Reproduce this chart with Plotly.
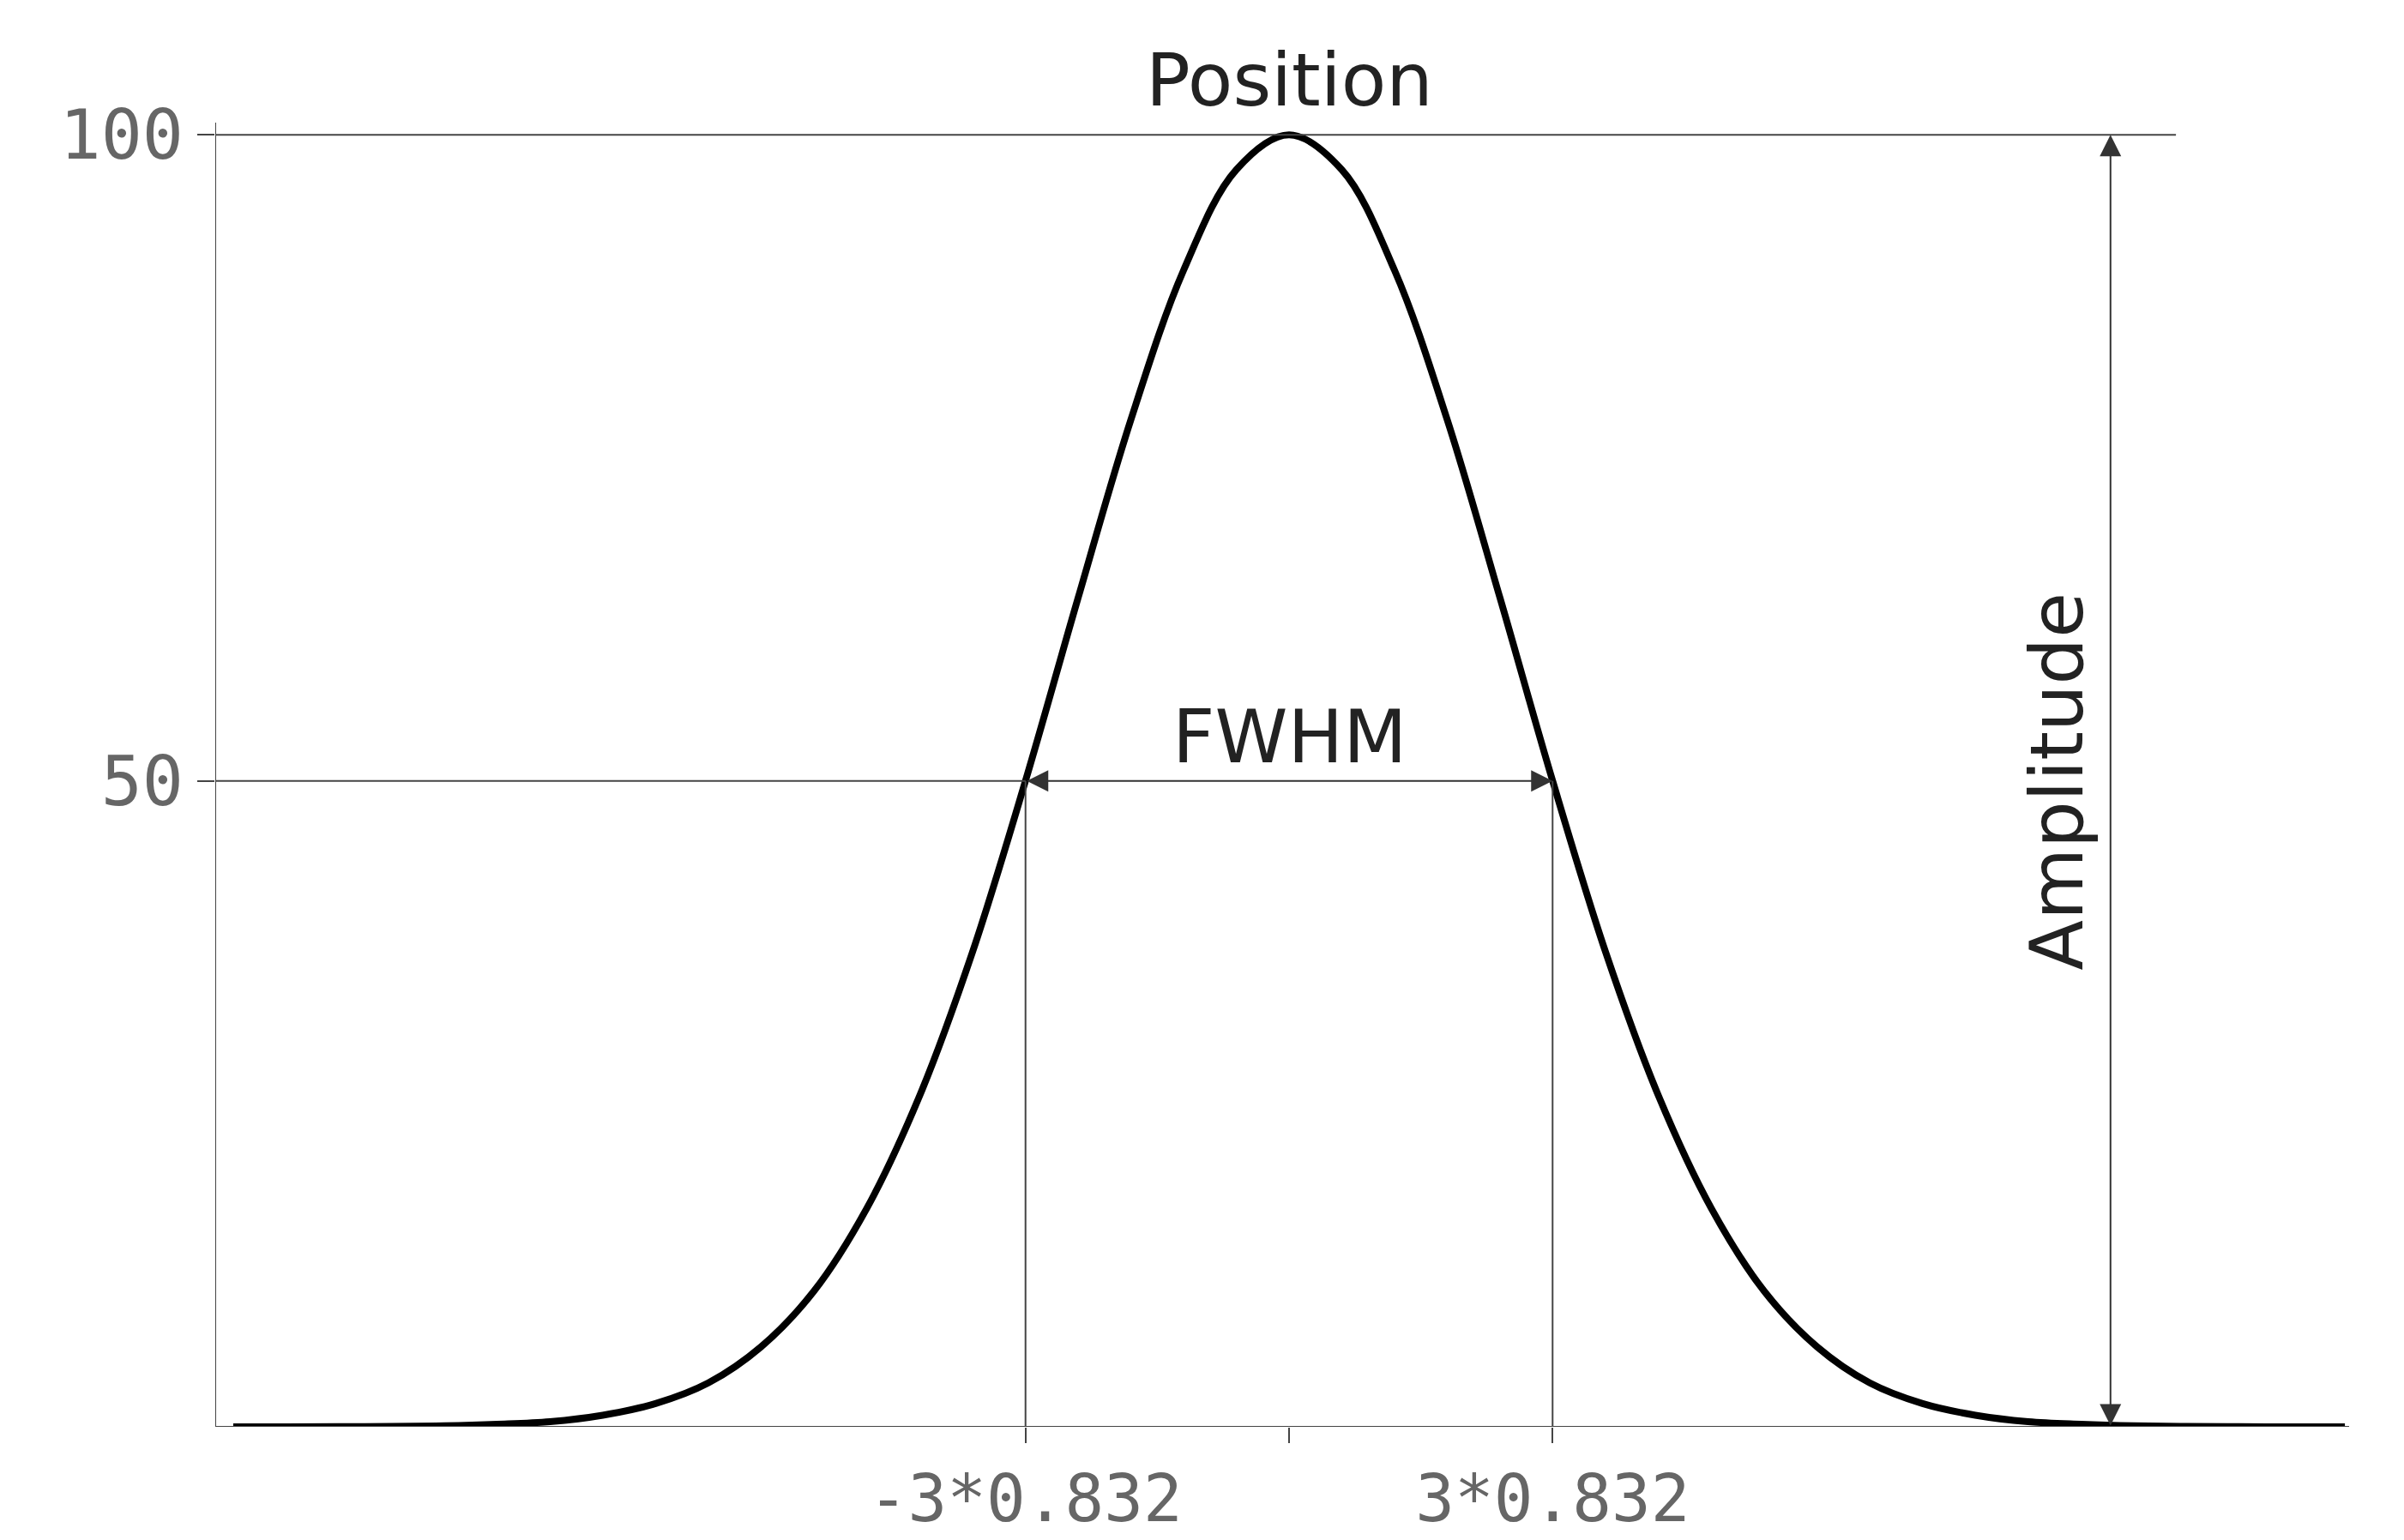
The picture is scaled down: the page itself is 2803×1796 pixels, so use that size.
import plotly.graph_objects as go

# values
x_vals = [-10,-9.5,-9,-8.5,-8,-7.5,-7,-6.5,-6,-5.5,-5,-4.5,-4,-3.5,-3,-2.5,-2,-1.5,-1,-0.5,0,
          0.5,1,1.5,2,2.5,3,3.5,4,4.5,5,5.5,6,6.5,7,7.5,8,8.5,9,9.5,10]
y_vals = [0,0,0.01,0.03,0.08,0.2,0.4,0.9,1.8,3.4,6.2,10.5,16.9,25.6,36.7,49.9,64.1,77.9,89.5,97.3,100,
          97.3,89.5,77.9,64.1,49.9,36.7,25.6,16.9,10.5,6.2,3.4,1.8,0.9,0.4,0.2,0.08,0.03,0.01,0,0]
half_w = 2.496
amp_x = 7.78
xtick_vals = [-half_w, 0, half_w]
xtick_text = ["-3*0.832", "", "3*0.832"]
ytick_vals = [50, 100]
ytick_text = ["50", "100"]

X0, X1 = -10.17, 10.04
Y0, Y1 = 0, 100.95
thin = dict(color="#444", width=2)

fig = go.Figure(go.Scatter(x=x_vals, y=y_vals, mode="lines", cliponaxis=False,
                           line=dict(color="black", width=8, shape="spline", smoothing=1.0),
                           hoverinfo="skip"))
shapes = [
    dict(type="line", x0=X0, x1=X1, y0=0, y1=0, line=thin),
    dict(type="line", x0=X0, x1=X0, y0=Y0, y1=Y1, line=thin),
    dict(type="line", x0=X0, x1=-half_w, y0=50, y1=50, line=thin),
    dict(type="line", x0=X0, x1=8.4, y0=100, y1=100, line=thin),
    dict(type="line", x0=-half_w, x1=-half_w, y0=0, y1=50, line=thin),
    dict(type="line", x0=half_w, x1=half_w, y0=0, y1=50, line=thin),
]
ann = [
    dict(x=half_w, y=50, ax=-half_w, ay=50, axref="x", ayref="y", xref="x", yref="y", text="",
         showarrow=True, arrowside="end+start", arrowhead=2, arrowsize=2.5, arrowwidth=2, arrowcolor="#333"),
    dict(x=amp_x, y=100, ax=amp_x, ay=0, axref="x", ayref="y", xref="x", yref="y", text="",
         showarrow=True, arrowside="end+start", arrowhead=2, arrowsize=2.5, arrowwidth=2, arrowcolor="#333"),
    dict(x=0, y=100.5, text="Position", showarrow=False, yanchor="bottom", yshift=5,
         font=dict(family="DejaVu Sans", size=86, color="#222")),
    dict(x=0, y=53.4, text="FWHM", showarrow=False,
         font=dict(family="DejaVu Sans", size=86, color="#222")),
    dict(x=7.27, y=50, text="Amplitude", showarrow=False, textangle=-90,
         font=dict(family="DejaVu Sans", size=86, color="#222")),
]
fig.update_layout(
    width=2803, height=1796, margin=dict(l=243, r=72, t=135, b=134),
    plot_bgcolor="white", paper_bgcolor="white", showlegend=False,
    shapes=shapes, annotations=ann,
    xaxis=dict(range=[X0, X1], showgrid=False, zeroline=False, showline=False,
               tickvals=xtick_vals, ticktext=xtick_text, ticks="outside", ticklen=18, tickwidth=2, tickcolor="#444",
               tickfont=dict(family="DejaVu Sans Mono", size=76, color="#666")),
    yaxis=dict(range=[Y0, Y1], showgrid=False, zeroline=False, showline=False,
               tickvals=ytick_vals, ticktext=ytick_text, ticks="outside", ticklen=20, tickwidth=2, tickcolor="#444",
               tickfont=dict(family="DejaVu Sans Mono", size=80, color="#666")),
)
fig.write_html("out.html")
